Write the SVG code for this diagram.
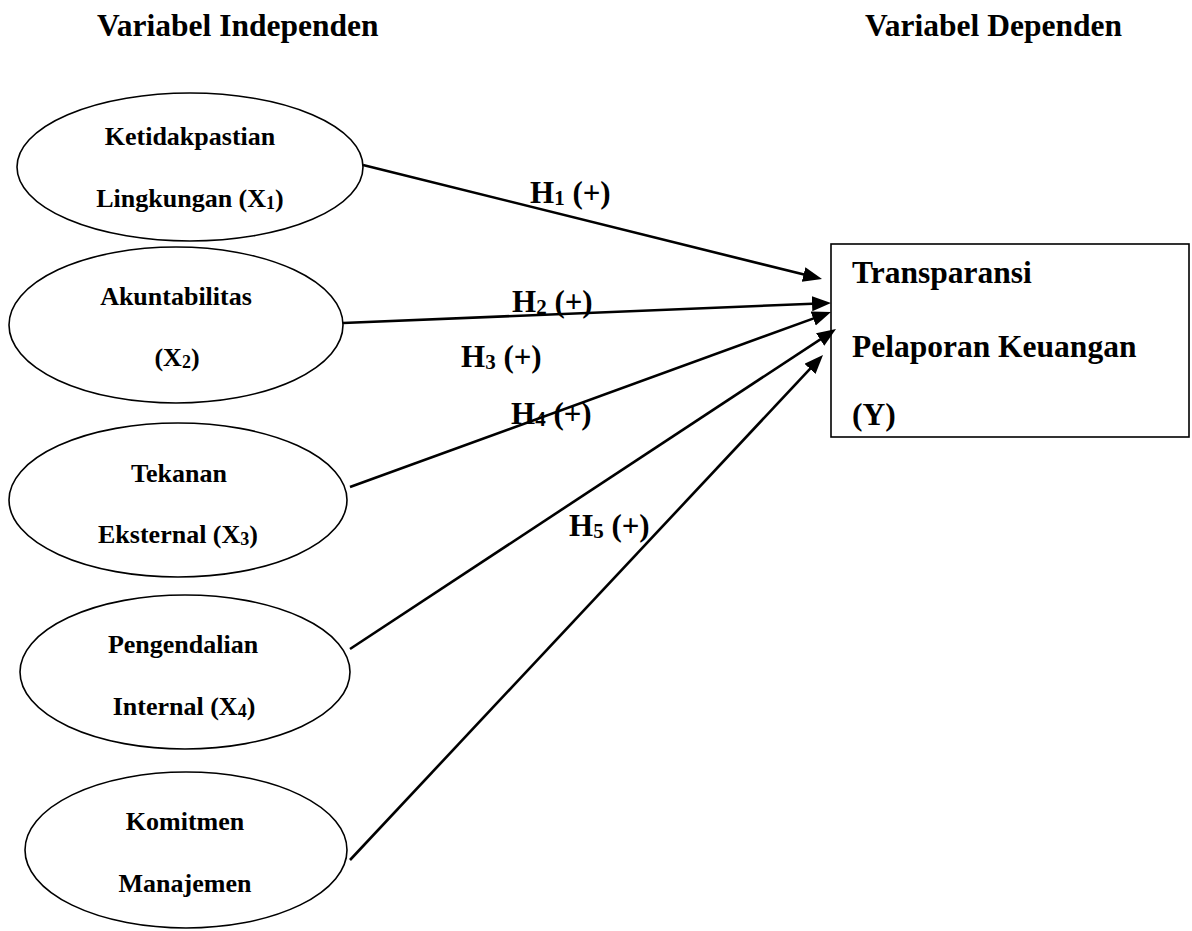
<svg xmlns="http://www.w3.org/2000/svg" width="1192" height="931" viewBox="0 0 1192 931">
<style>
  text { font-family: "Liberation Serif", "Times New Roman", serif; font-weight: bold; fill: #000; }
  .head { font-size: 31.5px; }
  .node { font-size: 26px; text-anchor: middle; }
  .box { font-size: 31.5px; }
  .lab { font-size: 31px; }
  .sub { font-size: 18px; }
  .subL { font-size: 21px; }
  .shape { fill: #fff; stroke: #000; stroke-width: 1.6; }
  .conn { stroke: #000; stroke-width: 2.6; fill: none; marker-end: url(#arrow); }
</style>
<defs>
  <marker id="arrow" markerUnits="userSpaceOnUse" markerWidth="22" markerHeight="18" refX="13" refY="7.5" orient="auto">
    <path d="M0,0 L19,7.5 L0,15 Z" fill="#000"/>
  </marker>
</defs>
<rect width="1192" height="931" fill="#fff"/>

<text class="head" x="97" y="36">Variabel Independen</text>
<text class="head" x="865" y="36">Variabel Dependen</text>

<g id="x1">
  <ellipse class="shape" cx="190" cy="167" rx="173" ry="74"/>
  <text class="node" x="190" y="145">Ketidakpastian</text>
  <text class="node" x="190" y="207">Lingkungan (X<tspan class="sub" dy="2">1</tspan><tspan dy="-2">)</tspan></text>
</g>
<g id="x2">
  <ellipse class="shape" cx="176" cy="325" rx="167" ry="78"/>
  <text class="node" x="176" y="305">Akuntabilitas</text>
  <text class="node" x="177" y="366">(X<tspan class="sub" dy="2">2</tspan><tspan dy="-2">)</tspan></text>
</g>
<g id="x3">
  <ellipse class="shape" cx="178" cy="500" rx="169" ry="77"/>
  <text class="node" x="179" y="482">Tekanan</text>
  <text class="node" x="178" y="543">Eksternal (X<tspan class="sub" dy="2">3</tspan><tspan dy="-2">)</tspan></text>
</g>
<g id="x4">
  <ellipse class="shape" cx="185" cy="672" rx="165" ry="77"/>
  <text class="node" x="183" y="653">Pengendalian</text>
  <text class="node" x="184" y="715">Internal (X<tspan class="sub" dy="2">4</tspan><tspan dy="-2">)</tspan></text>
</g>
<g id="x5">
  <ellipse class="shape" cx="186" cy="850" rx="161" ry="78"/>
  <text class="node" x="185" y="830">Komitmen</text>
  <text class="node" x="185" y="892">Manajemen</text>
</g>
<g id="y">
  <rect class="shape" x="831" y="244" width="358" height="193"/>
  <text class="box" x="852" y="283">Transparansi</text>
  <text class="box" x="852" y="357">Pelaporan Keuangan</text>
  <text class="box" x="852" y="425">(Y)</text>
</g>

<g id="connectors">
  <line class="conn" x1="363" y1="165" x2="816.2" y2="277.6"/>
  <line class="conn" x1="343" y1="323" x2="825.0" y2="303.2"/>
  <line class="conn" x1="350" y1="487" x2="825.4" y2="314.1"/>
  <line class="conn" x1="350" y1="649" x2="831.0" y2="332.3"/>
  <line class="conn" x1="350" y1="860" x2="818.9" y2="359.4"/>
</g>

<g id="labels">
  <text class="lab" x="530" y="203">H<tspan class="subL" dy="2">1</tspan><tspan dy="-2"> (+)</tspan></text>
  <text class="lab" x="512" y="312">H<tspan class="subL" dy="2">2</tspan><tspan dy="-2"> (+)</tspan></text>
  <text class="lab" x="461" y="367">H<tspan class="subL" dy="2">3</tspan><tspan dy="-2"> (+)</tspan></text>
  <text class="lab" x="511" y="424">H<tspan class="subL" dy="2">4</tspan><tspan dy="-2"> (+)</tspan></text>
  <text class="lab" x="569" y="536">H<tspan class="subL" dy="2">5</tspan><tspan dy="-2"> (+)</tspan></text>
</g>
</svg>
